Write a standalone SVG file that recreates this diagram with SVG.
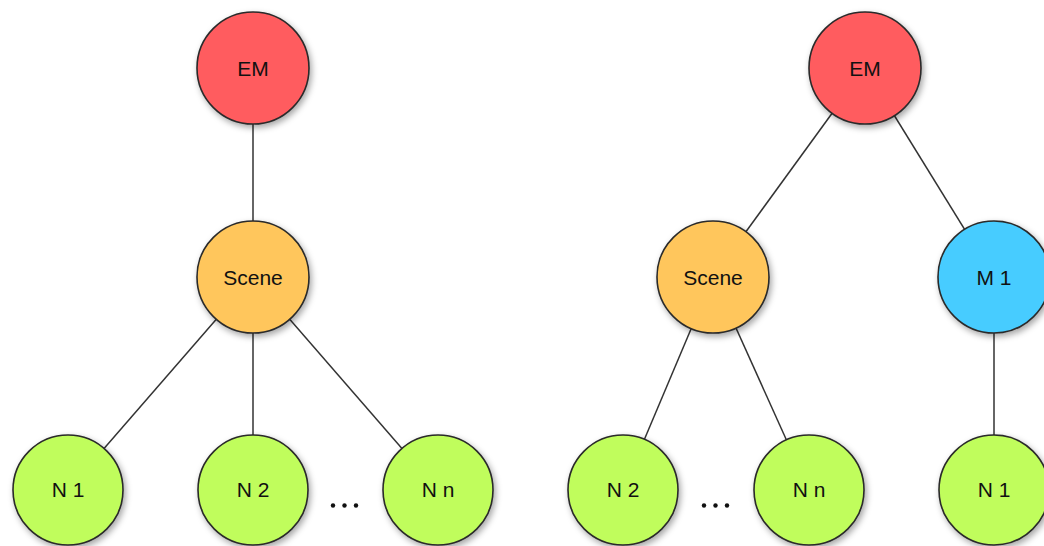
<svg xmlns="http://www.w3.org/2000/svg" width="1044" height="546" viewBox="0 0 1044 546">
  <defs>
    <filter id="shadow" x="-30%" y="-30%" width="160%" height="160%">
      <feDropShadow dx="2" dy="3" stdDeviation="3" flood-color="#000" flood-opacity="0.35"/>
    </filter>
    <style>
      .node circle { stroke: #2a2a2a; stroke-width: 1.6; filter: url(#shadow); }
      .em circle { fill: #ff5c5f; }
      .scene circle { fill: #ffc65b; }
      .leaf circle { fill: #c0fd5b; }
      .m circle { fill: #46ccff; }
      .node text { font-family: "Liberation Sans", Arial, sans-serif; font-size: 21px; fill: #111; text-anchor: middle; }
      .edges line { stroke: #333; stroke-width: 1.5; }
      .dots circle { fill: #111; }
    </style>
  </defs>

  <!-- connectors -->
  <g class="edges">
    <!-- left tree -->
    <line x1="253" y1="68" x2="253" y2="277"/>
    <line x1="253" y1="277" x2="68" y2="490"/>
    <line x1="253" y1="277" x2="253" y2="490"/>
    <line x1="253" y1="277" x2="438" y2="490"/>
    <!-- right tree -->
    <line x1="865" y1="68" x2="713" y2="277"/>
    <line x1="865" y1="68" x2="994" y2="277"/>
    <line x1="713" y1="277" x2="623" y2="490"/>
    <line x1="713" y1="277" x2="809" y2="490"/>
    <line x1="994" y1="277" x2="994" y2="490"/>
  </g>

  <!-- left tree nodes -->
  <g id="em-left" class="node em">
    <circle cx="253" cy="68" r="56"/>
    <text x="253" y="75.5">EM</text>
  </g>
  <g id="scene-left" class="node scene">
    <circle cx="253" cy="277" r="56"/>
    <text x="253" y="284.5">Scene</text>
  </g>
  <g id="n1-left" class="node leaf">
    <circle cx="68" cy="490" r="55"/>
    <text x="68" y="497">N 1</text>
  </g>
  <g id="n2-left" class="node leaf">
    <circle cx="253" cy="490" r="55"/>
    <text x="253" y="497">N 2</text>
  </g>
  <g id="nn-left" class="node leaf">
    <circle cx="438" cy="490" r="55"/>
    <text x="438" y="497">N n</text>
  </g>

  <!-- right tree nodes -->
  <g id="em-right" class="node em">
    <circle cx="865" cy="68" r="56"/>
    <text x="865" y="75.5">EM</text>
  </g>
  <g id="scene-right" class="node scene">
    <circle cx="713" cy="277" r="56"/>
    <text x="713" y="284.5">Scene</text>
  </g>
  <g id="m1-right" class="node m">
    <circle cx="994" cy="277" r="56"/>
    <text x="994" y="284.5">M 1</text>
  </g>
  <g id="n2-right" class="node leaf">
    <circle cx="623" cy="490" r="55"/>
    <text x="623" y="497">N 2</text>
  </g>
  <g id="nn-right" class="node leaf">
    <circle cx="809" cy="490" r="55"/>
    <text x="809" y="497">N n</text>
  </g>
  <g id="n1-right" class="node leaf">
    <circle cx="994" cy="490" r="55"/>
    <text x="994" y="497">N 1</text>
  </g>

  <!-- ellipses between leaves -->
  <g class="dots">
    <circle cx="333" cy="505.5" r="2.2"/>
    <circle cx="344.5" cy="505.5" r="2.2"/>
    <circle cx="356" cy="505.5" r="2.2"/>
    <circle cx="704" cy="505.5" r="2.2"/>
    <circle cx="715.5" cy="505.5" r="2.2"/>
    <circle cx="727" cy="505.5" r="2.2"/>
  </g>
</svg>
